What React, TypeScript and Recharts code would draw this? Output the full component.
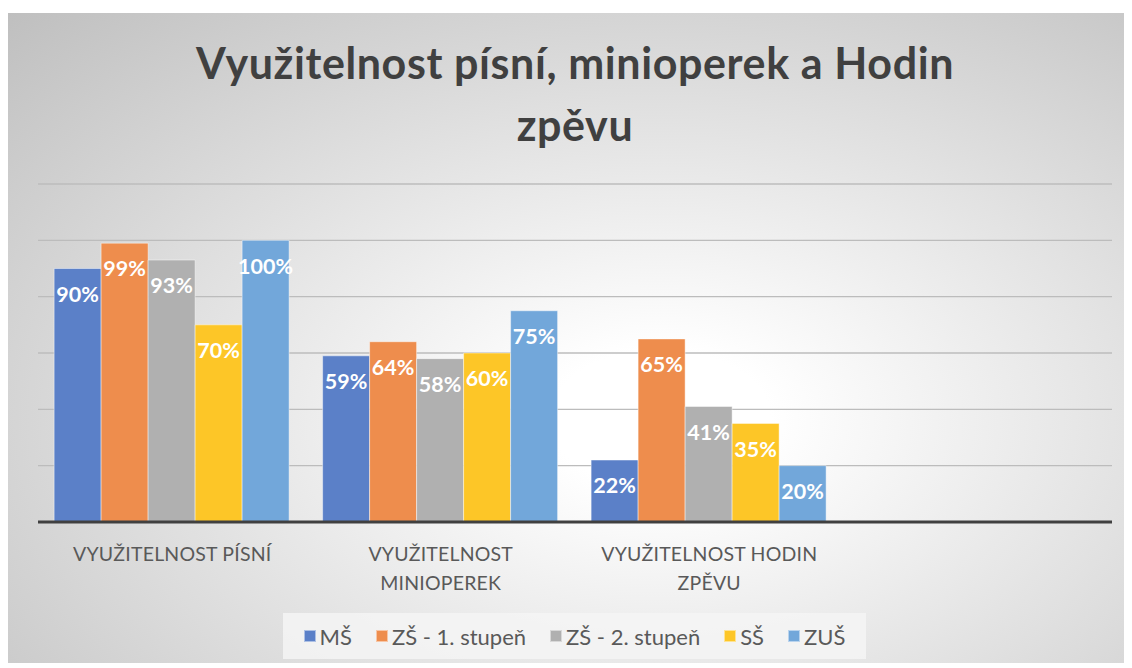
import React from 'react';
import { BarChart, Bar, XAxis, YAxis, CartesianGrid, Legend, LabelList } from 'recharts';

const titleLines = ['Využitelnost písní, minioperek a Hodin', 'zpěvu'];
const categories = ['VYUŽITELNOST PÍSNÍ', 'VYUŽITELNOST\nMINIOPEREK', 'VYUŽITELNOST HODIN\nZPĚVU', ''];
const seriesNames = ['MŠ', 'ZŠ - 1. stupeň', 'ZŠ - 2. stupeň', 'SŠ', 'ZUŠ'];
const seriesColors = ['#5B80C8', '#EE8D4D', '#B0B0B0', '#FDC627', '#72A7DA'];
const msValues = [90, 59, 22, null];
const zs1Values = [99, 64, 65, null];
const zs2Values = [93, 58, 41, null];
const ssValues = [70, 60, 35, null];
const zusValues = [100, 75, 20, null];
const yTicks = [0, 20, 40, 60, 80, 100, 120];

const seriesValues = [msValues, zs1Values, zs2Values, ssValues, zusValues];
const keys = ['s0', 's1', 's2', 's3', 's4'];

const data = categories.map((c, i) => {
  const row: any = { name: c };
  keys.forEach((k, j) => {
    row[k] = seriesValues[j][i];
  });
  return row;
});

const FONT = 'Lato, "Open Sans", sans-serif';

const XTick = (props: any) => {
  const { x, y, payload } = props;
  const lines = String(payload.value).split('\n');
  return (
    <g>
      {lines.map((l: string, i: number) => (
        <text
          key={i}
          x={x}
          y={y + 31 + i * 29}
          textAnchor="middle"
          dominantBaseline="central"
          fill="#595959"
          fontFamily={FONT}
          fontSize={19.5}
          letterSpacing={0.2}
        >
          {l}
        </text>
      ))}
    </g>
  );
};

const LegendContent = () => (
  <div
    style={{
      width: '100%',
      height: '100%',
      background: 'rgba(244,244,244,0.85)',
      display: 'flex',
      alignItems: 'center',
      justifyContent: 'center',
      gap: 24,
      fontFamily: FONT,
      fontSize: 22,
      letterSpacing: 0,
      color: '#595959',
    }}
  >
    {seriesNames.map((n, i) => (
      <div key={n} style={{ display: 'flex', alignItems: 'center', gap: 4 }}>
        <span
          style={{
            display: 'inline-block',
            width: 12,
            height: 12,
            background: seriesColors[i],
            border: '1px solid rgba(255,255,255,0.5)',
            boxSizing: 'border-box',
          }}
        />
        <span>{n}</span>
      </div>
    ))}
  </div>
);

const fmt = (v: any) => (v == null ? '' : `${v}%`);

export default function App() {
  return (
    <div
      style={{
        position: 'relative',
        top: 5,
        width: 1124,
        height: 655,
        background:
          'radial-gradient(ellipse farthest-corner at 58% 62%, #ffffff 0%, #ffffff 12%, #bfbfbf 100%)',
      }}
    >
      <div
        style={{
          position: 'absolute',
          top: 19,
          left: 10,
          width: 1114,
          textAlign: 'center',
          fontFamily: FONT,
          fontWeight: 700,
          fontSize: 43,
          letterSpacing: 0.6,
          lineHeight: '62px',
          color: '#404040',
          zIndex: 2,
        }}
      >
        {titleLines.map((t) => (
          <div key={t}>{t}</div>
        ))}
      </div>
      <BarChart
        width={1124}
        height={655}
        data={data}
        margin={{ top: 171, right: 20, left: 30, bottom: 86 }}
        barCategoryGap="6%"
        barGap={0}
      >
        <CartesianGrid vertical={false} stroke="#bcbcbc" strokeWidth={1.3} />
        <YAxis hide domain={[0, 120]} ticks={yTicks} type="number" />
        <XAxis
          dataKey="name"
          axisLine={{ stroke: '#404040', strokeWidth: 3 }}
          tickLine={false}
          tickSize={0}
          tickMargin={0}
          height={60}
          tick={<XTick />}
          interval={0}
        />
        <Legend
          verticalAlign="middle"
          content={<LegendContent />}
          wrapperStyle={{ left: 275, top: 600, width: 583, height: 46 }}
        />
        {keys.map((k, i) => (
          <Bar
            key={k}
            dataKey={k}
            name={seriesNames[i]}
            fill={seriesColors[i]}
            stroke="rgba(255,255,255,0.45)"
            strokeWidth={1}
            isAnimationActive={false}
          >
            <LabelList
              dataKey={k}
              position="insideTop"
              offset={18}
              formatter={fmt}
              fill="#ffffff"
              fontFamily={FONT}
              fontWeight={700}
              fontSize={21.5}
            />
          </Bar>
        ))}
      </BarChart>
    </div>
  );
}
